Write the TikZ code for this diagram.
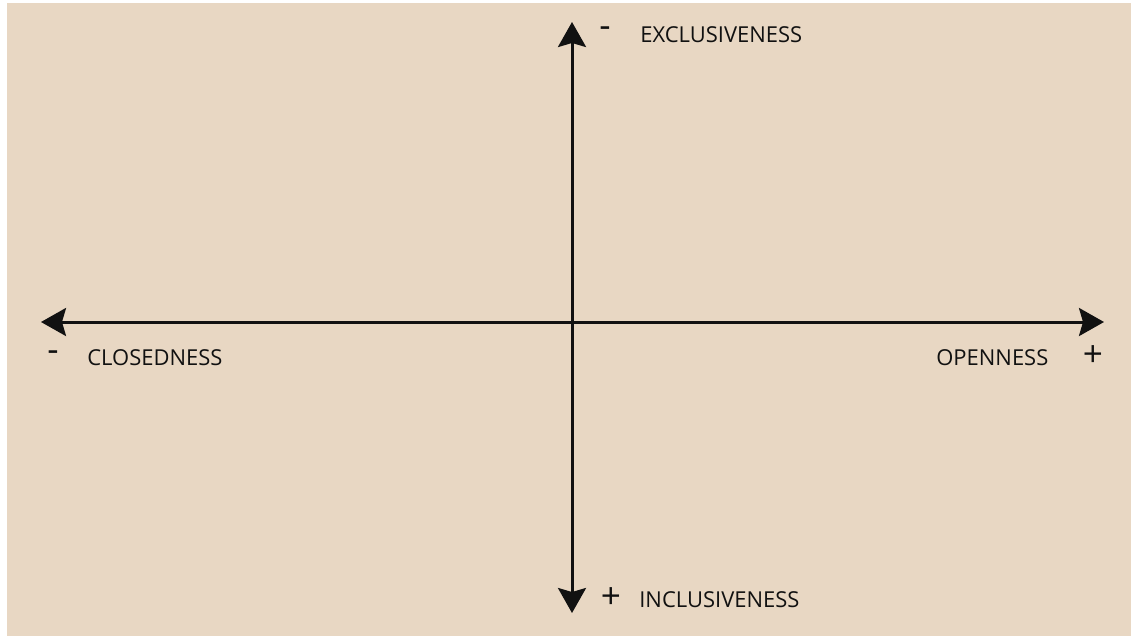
\documentclass[tikz,border=0pt]{standalone}
\usepackage{fontspec}
\setmainfont{Open Sans}
\usepackage{xcolor}
\usetikzlibrary{arrows.meta,positioning}
\definecolor{Parchment}{HTML}{E8D7C3}
\definecolor{AxisInk}{HTML}{111111}
\tikzset{
  axislabel/.style={anchor=west,inner sep=0pt,font=\fontsize{12.5}{14}\selectfont,text=AxisInk},
  signlabel/.style={inner sep=0pt,font=\fontsize{20}{22}\selectfont,text=AxisInk},
  axisarrow/.style={{Stealth[length=0.5cm,width=0.56cm,inset=0.08cm]}-{Stealth[length=0.5cm,width=0.56cm,inset=0.08cm]},line width=0.06cm,draw=AxisInk}
}

\begin{document}
\begin{tikzpicture}[x=0.02cm,y=-0.02cm]
    % page and paper
    \fill[white] (0,0) rectangle (1131,636);
    \fill[Parchment] (7,3) rectangle (1131,636);
    \useasboundingbox (0,0) rectangle (1131,636);

    \coordinate (top) at (572,22);
    \coordinate (bottom) at (572,613);
    \coordinate (left) at (41,322);
    \coordinate (right) at (1104,322);

    \node[signlabel] (minustop) at (605,32) {-};
    \node[axislabel] (exclusive) at (640,35) {EXCLUSIVENESS};
    \node[signlabel] (minusleft) at (53,356) {-};
    \node[axislabel] (closed) at (87,358) {CLOSEDNESS};
    \node[axislabel] (open) at (936,358) {OPENNESS};
    \node[signlabel] (plusright) at (1093,356) {+};
    \node[signlabel] (plusbottom) at (611,598) {+};
    \node[axislabel] (inclusive) at (639,600) {INCLUSIVENESS};

    \draw[axisarrow] (bottom) -- (top);
    \draw[axisarrow] (left) -- (right);
  \end{tikzpicture}
\end{document}
